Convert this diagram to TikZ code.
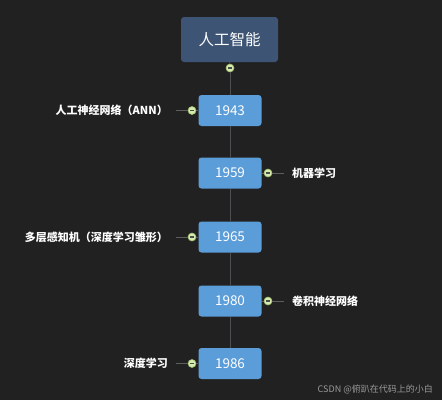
\documentclass[tikz,border=0pt]{standalone}
\usepackage{fontspec}
\newfontfamily\cjk{Noto Sans CJK SC}
\definecolor{bgc}{HTML}{212121}
\definecolor{rootc}{HTML}{3D5474}
\definecolor{yearc}{HTML}{5B9DD9}
\definecolor{knobc}{HTML}{D6EBAE}
\definecolor{knobb}{HTML}{9DBE6A}
\definecolor{linkc}{HTML}{5E5E5E}
\definecolor{spinec}{HTML}{4E4E52}
\definecolor{wmc}{HTML}{9A9A9A}
\begin{document}
\begin{tikzpicture}[x=1pt,y=-1pt,
  rootbox/.style={fill=rootc, rounded corners=3pt, minimum width=97pt, minimum height=45pt, inner sep=0pt, text=white, font=\cjk\fontsize{15.5}{15.5}\selectfont},
  yearbox/.style={fill=yearc, rounded corners=3pt, minimum width=63pt, minimum height=31pt, inner sep=0pt, text=white, font=\cjk\fontsize{13.5}{13.5}\selectfont},
  knob/.style={circle, fill=knobc, draw=knobb, line width=0.6pt, minimum size=8pt, inner sep=0pt,
    path picture={\draw[line width=1.1pt, black!70] ([xshift=-2.2pt]path picture bounding box.center) -- ([xshift=2.2pt]path picture bounding box.center);}},
  lbl/.style={text=white, inner xsep=8pt, inner ysep=2pt, font=\cjk\bfseries\fontsize{11}{11}\selectfont},
  link/.style={draw=linkc, line width=0.8pt},
  spine/.style={draw=spinec, line width=0.9pt}]
\fill[bgc] (0,0) rectangle (442,400);
\useasboundingbox (0,0) rectangle (442,400);

\node[rootbox] (r) at (229.5,39.5) {人工智能};
\node[knob] (rk) at (230,68) {};

\node[yearbox] (y1) at (230,110.5) {1943};
\node[yearbox] (y2) at (230,173) {1959};
\node[yearbox] (y3) at (230,237) {1965};
\node[yearbox] (y4) at (230,301) {1980};
\node[yearbox] (y5) at (230,363.5) {1986};

\draw[spine] (r.south) -- (rk.north);
\draw[spine] (rk.south) -- (y1.north);
\draw[spine] (y1.south) -- (y2.north);
\draw[spine] (y2.south) -- (y3.north);
\draw[spine] (y3.south) -- (y4.north);
\draw[spine] (y4.south) -- (y5.north);

\node[knob] (k1) at (192,110.5) {};
\node[knob] (k2) at (268,173) {};
\node[knob] (k3) at (192,237) {};
\node[knob] (k4) at (268,301) {};
\node[knob] (k5) at (192,363.5) {};

\node[lbl, anchor=east] (l1) at (176,110.5) {人工神经网络（ANN）\hspace{4pt}};
\node[lbl, anchor=west] (l2) at (284,173) {机器学习};
\node[lbl, anchor=east] (l3) at (176,237) {多层感知机（深度学习雏形）\hspace{3pt}};
\node[lbl, anchor=west] (l4) at (284,301) {卷积神经网络};
\node[lbl, anchor=east] (l5) at (176,363.5) {深度学习};

\foreach \i in {1,3,5} {
  \draw[link] (k\i.east) -- (y\i.west);
  \draw[link] (k\i.west) -- (l\i.east);
}
\foreach \i in {2,4} {
  \draw[link] (y\i.east) -- (k\i.west);
  \draw[link] (k\i.east) -- (l\i.west);
}

\node[anchor=east, inner sep=0pt, text=wmc, font=\cjk\fontsize{9}{9}\selectfont] (wm) at (433,389) {CSDN @俯趴在代码上的小白};
\end{tikzpicture}
\end{document}
